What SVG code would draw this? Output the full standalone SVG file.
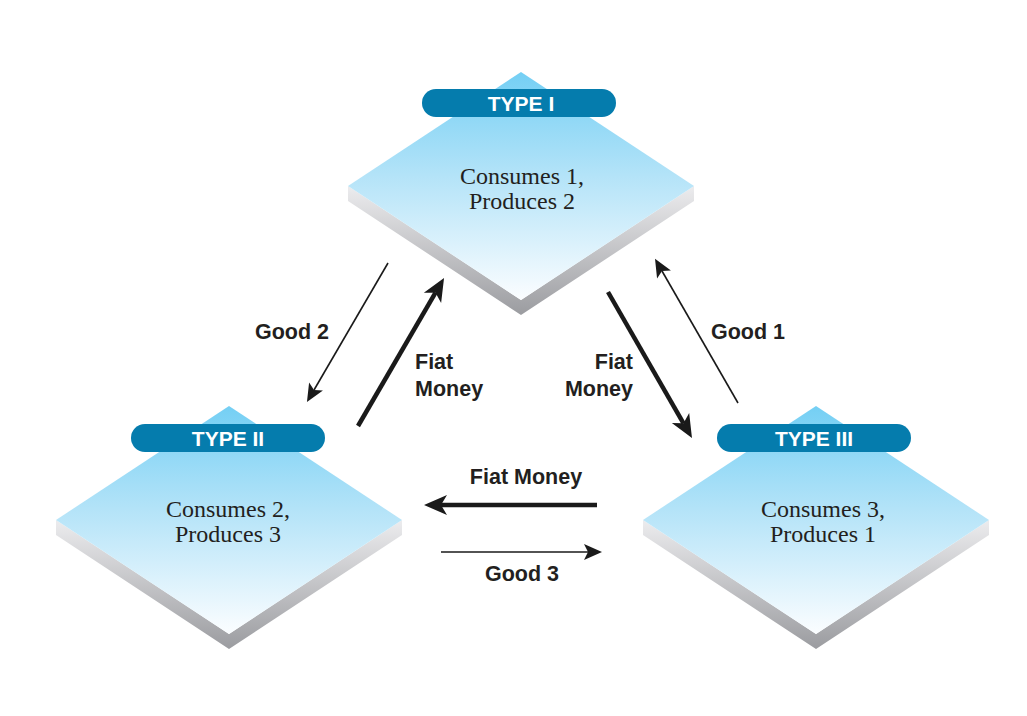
<svg xmlns="http://www.w3.org/2000/svg" width="1027" height="716" viewBox="0 0 1027 716">
<defs>
<linearGradient id="face" x1="0" y1="0" x2="0" y2="1">
<stop offset="0" stop-color="#74cff4"/>
<stop offset="0.45" stop-color="#b3e3f8"/>
<stop offset="1" stop-color="#fbfdff"/>
</linearGradient>
<linearGradient id="slab" x1="0" y1="0" x2="0" y2="1">
<stop offset="0" stop-color="#ececee"/>
<stop offset="1" stop-color="#9b9ca0"/>
</linearGradient>
<marker id="headThick" markerUnits="userSpaceOnUse" markerWidth="30" markerHeight="30" refX="0" refY="0" orient="auto" overflow="visible">
<path d="M17,0 L-6,-10 L0,0 L-6,10 Z" fill="#1a1a1a"/>
</marker>
<marker id="headThin" markerUnits="userSpaceOnUse" markerWidth="30" markerHeight="30" refX="0" refY="0" orient="auto" overflow="visible">
<path d="M14,0 L-4,-8 L0,0 L-4,8 Z" fill="#1a1a1a"/>
</marker>
</defs>
<style>
.face{fill:url(#face);}
.slab{fill:url(#slab);}
.pill{fill:#057cad;}
.pilltext{font-family:"Liberation Sans",Arial,sans-serif;font-weight:bold;font-size:21px;fill:#ffffff;text-anchor:middle;}
.body{font-family:"Liberation Serif","Times New Roman",serif;font-size:24px;fill:#231f20;text-anchor:middle;}
.lbl{font-family:"Liberation Sans",Arial,sans-serif;font-weight:bold;font-size:21.5px;fill:#231f20;}
.thick{stroke:#1a1a1a;stroke-width:4.5;fill:none;marker-end:url(#headThick);}
.thin{stroke:#1a1a1a;stroke-width:1.6;fill:none;marker-end:url(#headThin);}
</style>
<rect width="1027" height="716" fill="#ffffff"/>

<g id="type1">
<polygon class="slab" points="348,186 521,300 694,186 694,201 521,315 348,201"/>
<polygon class="face" points="521,72 694,186 521,300 348,186"/>
<rect class="pill" x="422" y="89" width="194" height="28" rx="14"/>
<text class="pilltext" x="521" y="111">TYPE I</text>
<text class="body" x="522" y="184">Consumes 1,</text>
<text class="body" x="522" y="209">Produces 2</text>
</g>

<g id="type2">
<polygon class="slab" points="56,520 229,634 402,520 402,535 229,649 56,535"/>
<polygon class="face" points="229,406 402,520 229,634 56,520"/>
<rect class="pill" x="131" y="424" width="194" height="28" rx="14"/>
<text class="pilltext" x="228" y="446">TYPE II</text>
<text class="body" x="228" y="517">Consumes 2,</text>
<text class="body" x="228" y="542">Produces 3</text>
</g>

<g id="type3">
<polygon class="slab" points="643,520 816,634 989,520 989,535 816,649 643,535"/>
<polygon class="face" points="816,406 989,520 816,634 643,520"/>
<rect class="pill" x="717" y="424" width="194" height="28" rx="14"/>
<text class="pilltext" x="814" y="446">TYPE III</text>
<text class="body" x="823" y="517">Consumes 3,</text>
<text class="body" x="823" y="542">Produces 1</text>
</g>

<g id="connectors">
<line class="thin" x1="388" y1="263" x2="314" y2="390"/>
<line class="thick" x1="358" y1="426" x2="435.5" y2="292.7"/>
<line class="thin" x1="738" y1="403" x2="662" y2="271"/>
<line class="thick" x1="608" y1="292" x2="683.5" y2="423.3"/>
<line class="thick" x1="597" y1="505" x2="441" y2="505"/>
<line class="thin" x1="441" y1="552" x2="588" y2="552"/>
</g>

<g id="labels">
<text class="lbl" x="255" y="339">Good 2</text>
<text class="lbl" x="415" y="369">Fiat</text>
<text class="lbl" x="415" y="396">Money</text>
<text class="lbl" x="633" y="369" text-anchor="end">Fiat</text>
<text class="lbl" x="633" y="396" text-anchor="end">Money</text>
<text class="lbl" x="711" y="339">Good 1</text>
<text class="lbl" x="526" y="484" text-anchor="middle">Fiat Money</text>
<text class="lbl" x="522" y="581" text-anchor="middle">Good 3</text>
</g>
</svg>
